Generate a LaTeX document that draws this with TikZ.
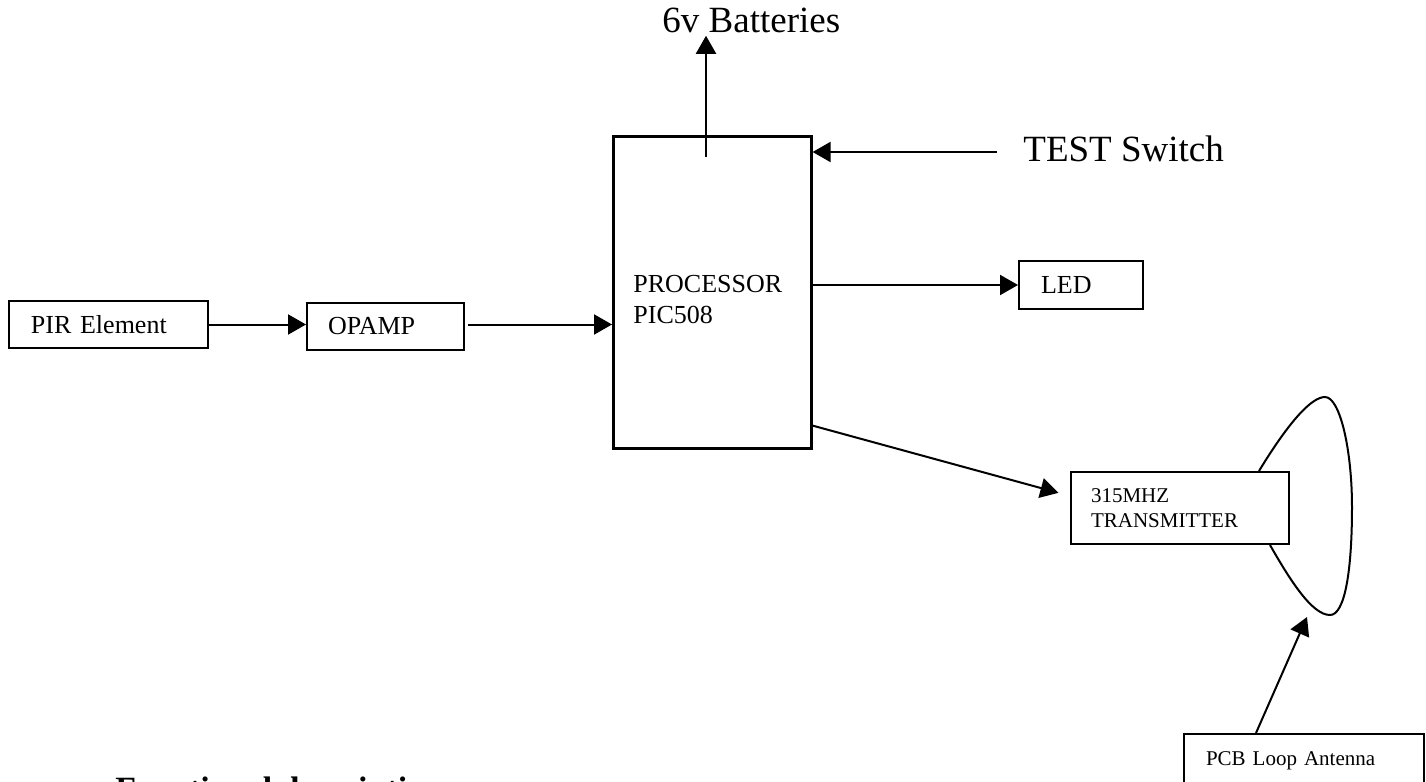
\documentclass[tikz,border=0pt]{standalone}
\usepackage{fontspec}
\setmainfont{Liberation Serif}
\usetikzlibrary{arrows.meta}

\tikzset{
  blk/.style={draw, line width=1pt, inner ysep=0pt, align=left, anchor=north west},
  arr/.style={-{Triangle[length=9pt,width=10pt]}, line width=1pt},
  smallfont/.style={font=\fontsize{13pt}{15.5pt}\selectfont},
  tinyfont/.style={font=\fontsize{10.5pt}{12.5pt}\selectfont},
  bigfont/.style={font=\fontsize{18.5pt}{22pt}\selectfont},
}

\begin{document}
\begin{tikzpicture}[x=0.5pt,y=-0.5pt]
  \useasboundingbox (0,0) rectangle (1426,782);

  % blocks
  \node[blk, smallfont, minimum height=23.5pt, inner xsep=11pt, text width=77.5pt] (pir) at (8,300) {PIR Element};
  \node[blk, smallfont, minimum height=23.5pt, inner xsep=10.5pt, text width=57.5pt] (opamp) at (306,302) {OPAMP};
  \node[blk, minimum width=99pt, minimum height=156pt, line width=1.3pt] (proc) at (612,135) {};
  \node[smallfont, anchor=north west, align=left, inner sep=0pt] (proclbl) at ([xshift=10.5pt,yshift=-70pt]proc.north west) {PROCESSOR\\PIC508};
  \node[blk, smallfont, minimum height=24pt, inner xsep=11pt, text width=40pt] (led) at (1018,260) {LED};
  \node[blk, tinyfont, minimum height=36pt, inner xsep=10pt, text width=89pt] (tx) at (1070,471) {315MHZ\\TRANSMITTER};
  \node[blk, tinyfont, minimum height=27pt, inner xsep=11pt, text width=98pt] (pcb) at (1183,733) {PCB Loop Antenna};

  % free labels
  \node[bigfont, anchor=base west, inner sep=0pt] (batt) at (662,32) {6v Batteries};
  \node[bigfont, anchor=base west, inner sep=0pt] (test) at (1023,161) {TEST Switch};
  \node[font=\fontsize{17pt}{20pt}\selectfont\bfseries, anchor=base west, inner sep=0pt] (title) at (115,800) {Functional description};

  \coordinate (bstart) at (706,157);
  \coordinate (tstart) at (997,152);
  \coordinate (loopbot) at (1307,617);

  % connectors
  \draw[arr, shorten >=1.5pt] (bstart) -- (bstart |- batt.south);
  \draw[arr] (tstart) -- (tstart -| proc.east);
  \draw[arr] (proc.east |- led.west) -- (led.west);
  \draw[arr] (pir.east) -- (pir.east -| opamp.west);
  \draw[arr] ([xshift=1.5pt]opamp.east |- pir.east) -- (pir.east -| proc.west);
  \draw[arr, shorten >=6pt] ([yshift=12pt]proc.south east) -- ([yshift=6pt]tx.west);
  \draw[arr] ([xshift=36.5pt]pcb.north west) -- (loopbot);

  % loop antenna
  \draw[line width=1pt] ([xshift=-15.5pt]tx.north east) .. controls (1290,420) and (1312,397) .. (1325,397)
    .. controls (1340,397) and (1352,450) .. (1352,507)
    .. controls (1352,570) and (1345,615) .. (1330,615)
    .. controls (1312,615) and (1290,580) .. ([xshift=-10pt]tx.south east);
\end{tikzpicture}
\end{document}
